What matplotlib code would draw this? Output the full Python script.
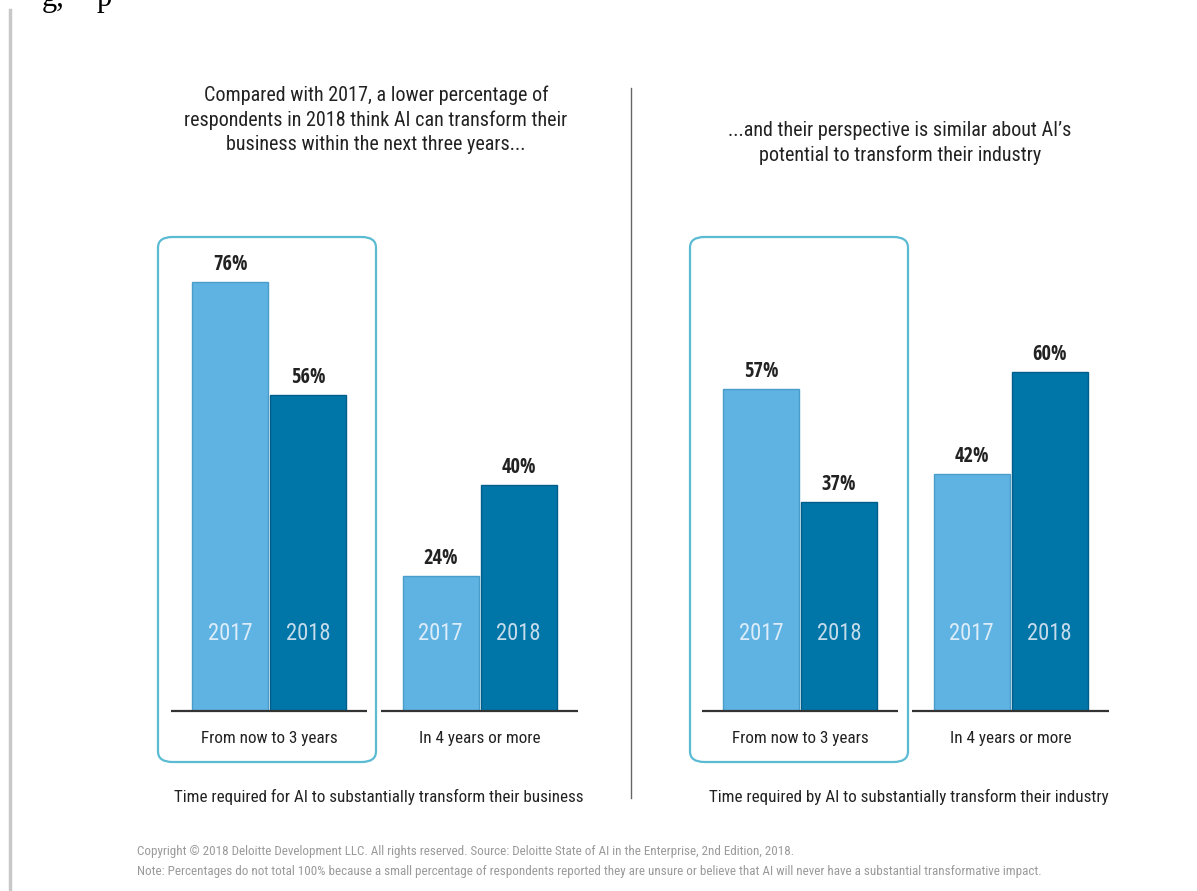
import matplotlib
matplotlib.use("Agg")
import matplotlib.pyplot as plt
from matplotlib.patches import FancyBboxPatch
from matplotlib.lines import Line2D
from matplotlib import font_manager as fm
import numpy as np

# ---- data ----
categories = ["From now to 3 years", "In 4 years or more"]
years = ["2017", "2018"]
business_2017 = [76, 24]
business_2018 = [56, 40]
industry_2017 = [57, 42]
industry_2018 = [37, 60]
title_left = ["Compared with 2017, a lower percentage of",
              "respondents in 2018 think AI can transform their",
              "business within the next three years..."]
title_right = ["...and their perspective is similar about AI\u2019s",
               "potential to transform their industry"]
captions = ["Time required for AI to substantially transform their business",
            "Time required by AI to substantially transform their industry"]
footer = ["Copyright \u00a9 2018 Deloitte Development LLC. All rights reserved. Source: Deloitte State of AI in the Enterprise, 2nd Edition, 2018.",
          "Note: Percentages do not total 100% because a small percentage of respondents reported they are unsure or believe that AI will never have a substantial transformative impact."]

# ---- font choice: prefer a condensed sans if installed ----
COND = {'condensed', 'semi-condensed', 'extra-condensed', 'ultra-condensed'}
PREF = ['Open Sans', 'Noto Sans', 'Roboto', 'Liberation Sans', 'DejaVu Sans']


def _w(w):
    if isinstance(w, str):
        return fm.weight_dict.get(w, 400)
    return w


def pick_condensed(bold):
    best, best_rank = None, 99
    for f in fm.fontManager.ttflist:
        st = f.stretch
        cond = ('Condensed' in f.name or 'Narrow' in f.name or
                (isinstance(st, str) and st in COND) or
                (isinstance(st, (int, float)) and st < 500))
        if not cond or f.style != 'normal':
            continue
        w = _w(f.weight)
        if bold and not (550 <= w <= 750):
            continue
        if not bold and not (350 <= w <= 450):
            continue
        rank = 50
        for i, p in enumerate(PREF):
            if f.name.startswith(p):
                rank = i
                break
        if rank < best_rank:
            best, best_rank = f.fname, rank
    return best


reg_path = pick_condensed(False)
bold_path = pick_condensed(True)


def FP(bold=False):
    p = bold_path if bold else reg_path
    if p:
        return fm.FontProperties(fname=p)
    return fm.FontProperties(family='Open Sans', weight='bold' if bold else 'normal')


W, H = 1197, 891
fig = plt.figure(figsize=(W / 100, H / 100), dpi=100)
fig.patch.set_facecolor('white')


def fx(x):
    return x / W


def fy(y):
    return 1 - y / H


LIGHT = '#5fb3e3'
DARK = '#0075a8'
LIGHT_EDGE = '#4a9cc9'
DARK_EDGE = '#005f8a'
BOX = '#5bbbd3'
TXT = '#222222'

px_per_pct = 5.645
baseline_px = 711
ymax = 80.0
spacing_px = 210.5
bw = 76 / spacing_px
off = 39 / spacing_px

value_texts, year_texts, cat_texts = [], [], []


def panel(center0_px, v17, v18):
    left_px = center0_px - 0.6 * spacing_px
    width_px = 2.2 * spacing_px
    top_px = baseline_px - ymax * px_per_pct
    ax = fig.add_axes([fx(left_px), fy(baseline_px), width_px / W, (baseline_px - top_px) / H])
    ax.set_xlim(-0.6, 1.6)
    ax.set_ylim(0, ymax)
    ax.axis('off')
    x = np.arange(len(categories))
    b1 = ax.bar(x - off, v17, width=bw, color=LIGHT, edgecolor=LIGHT_EDGE, linewidth=1)
    b2 = ax.bar(x + off, v18, width=bw, color=DARK, edgecolor=DARK_EDGE, linewidth=1)
    for bars, vals in ((b1, v17), (b2, v18)):
        for r, v in zip(bars, vals):
            cx = r.get_x() + r.get_width() / 2
            t = ax.annotate(f"{v}%", (cx, v), xytext=(0, 7), textcoords='offset pixels',
                            ha='center', va='bottom', fontproperties=FP(True), color=TXT)
            value_texts.append(t)
    for i in range(len(categories)):
        for j, yr in enumerate(years):
            cx = i + (-off if j == 0 else off)
            t = ax.annotate(yr, (cx, 0), xytext=(0, 77), textcoords='offset pixels',
                            ha='center', va='center', fontproperties=FP(False),
                            color='#dcecf8' if j == 0 else '#c4dbea')
            year_texts.append(t)
        ax.hlines(0, i - 0.467, i + 0.467, color='#333333', linewidth=1.6, clip_on=False)
        t = ax.annotate(categories[i], (i, 0), xytext=(0, -28), textcoords='offset pixels',
                        ha='center', va='center', fontproperties=FP(False), color=TXT,
                        annotation_clip=False)
        cat_texts.append(t)
    return ax


ax1 = panel(269, business_2017, business_2018)
ax2 = panel(800, industry_2017, industry_2018)

# rounded highlight boxes
for x0 in (158, 690):
    box = FancyBboxPatch((fx(x0), fy(762)), fx(218), 525 / H,
                         boxstyle="round,pad=0,rounding_size=0.012",
                         transform=fig.transFigure, facecolor='none',
                         edgecolor=BOX, linewidth=1.6)
    fig.patches.append(box)

# titles, one text per line
title_texts = []
for k, line in enumerate(title_left):
    title_texts.append(fig.text(fx(376), fy(95 + 25 * k), line, ha='center', va='center',
                                fontproperties=FP(False), color=TXT))
for k, line in enumerate(title_right):
    title_texts.append(fig.text(fx(900), fy(130 + 25 * k), line, ha='center', va='center',
                                fontproperties=FP(False), color=TXT))

# captions
t_cap1 = fig.text(fx(378.5), fy(797), captions[0], ha='center', va='center',
                  fontproperties=FP(False), color=TXT)
t_cap2 = fig.text(fx(909), fy(797), captions[1], ha='center', va='center',
                  fontproperties=FP(False), color=TXT)

# divider and left gray edge
fig.add_artist(Line2D([fx(631), fx(631)], [fy(88), fy(798)], color='#666666', linewidth=1))
fig.add_artist(Line2D([fx(10), fx(10)], [fy(10), fy(891)], color='#c8c8c8', linewidth=2.5))

# footer
t_f1 = fig.text(fx(137), fy(852), footer[0], ha='left', va='center',
                fontproperties=FP(False), color='#9a9a9a')
t_f2 = fig.text(fx(137), fy(872), footer[1], ha='left', va='center',
                fontproperties=FP(False), color='#9a9a9a')

# cut-off text of the page above (justified line)
fig.text(fx(42), fy(6), "g,", ha='left', va='baseline', fontsize=22,
         family='Liberation Serif', color='black')
fig.text(fx(97), fy(6), "p", ha='left', va='baseline', fontsize=22,
         family='Liberation Serif', color='black')

# ---- size texts so their widths match the reference layout ----
renderer = fig.canvas.get_renderer()


def fit(texts, target_px, ref, grow=1.0):
    ref.set_fontsize(20)
    w = ref.get_window_extent(renderer).width
    size = 20 * target_px / w * grow
    for t in texts:
        t.set_fontsize(size)
    return size


fit(value_texts, 33, value_texts[0], 1.05)
fit(year_texts, 39, year_texts[0], 1.15)
fit(cat_texts, 127, cat_texts[0], 1.08)
fit(title_texts, 354, title_texts[1], 1.08)
fit([t_cap1, t_cap2], 377, t_cap1, 1.08)
fit([t_f1, t_f2], 898, t_f2)

fig.savefig("out.png", dpi=100, facecolor='white')
